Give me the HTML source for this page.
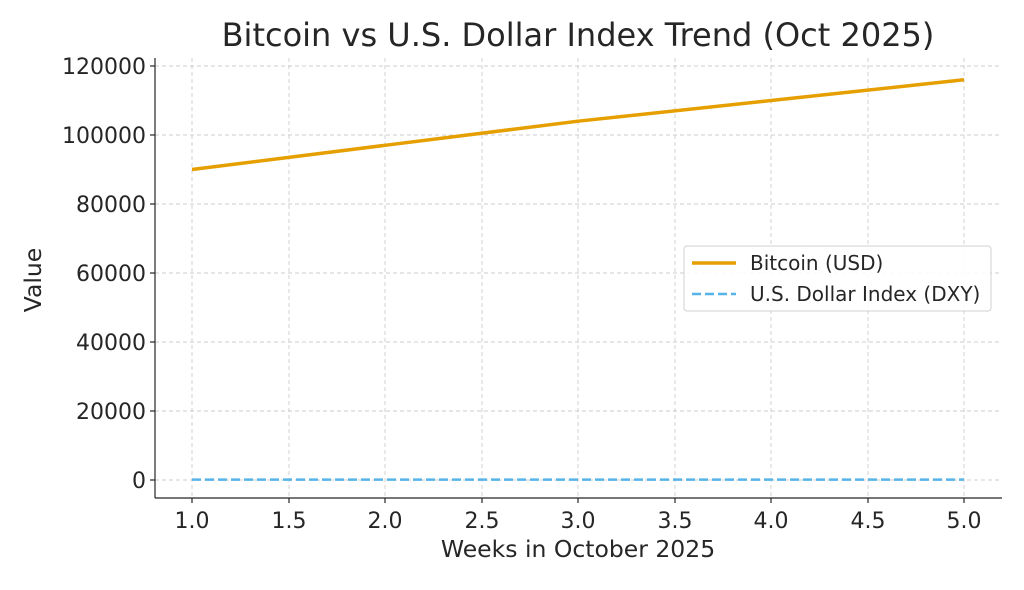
<!DOCTYPE html>
<html><head><meta charset="utf-8"><style>
body{margin:0;background:#fff;}
text{font-family:"DejaVu Sans","Liberation Sans",sans-serif;fill:#262626;}
</style></head><body>
<svg width="1024" height="585" viewBox="0 0 1024 585" xmlns="http://www.w3.org/2000/svg">
<rect width="1024" height="585" fill="#fff"/>
<g stroke="#cccccc" stroke-width="0.9" stroke-dasharray="4,3">
<line x1="192" y1="58" x2="192" y2="498"/><line x1="289" y1="58" x2="289" y2="498"/>
<line x1="385" y1="58" x2="385" y2="498"/><line x1="482" y1="58" x2="482" y2="498"/>
<line x1="578" y1="58" x2="578" y2="498"/><line x1="675" y1="58" x2="675" y2="498"/>
<line x1="771" y1="58" x2="771" y2="498"/><line x1="868" y1="58" x2="868" y2="498"/>
<line x1="964" y1="58" x2="964" y2="498"/>
<line x1="155" y1="480" x2="1002" y2="480"/><line x1="155" y1="411" x2="1002" y2="411"/>
<line x1="155" y1="342" x2="1002" y2="342"/><line x1="155" y1="273" x2="1002" y2="273"/>
<line x1="155" y1="204" x2="1002" y2="204"/><line x1="155" y1="135" x2="1002" y2="135"/>
<line x1="155" y1="66" x2="1002" y2="66"/>
</g>
<polyline points="192,169.5 385,145.3 578,121.2 771,100.5 964,79.8" fill="none" stroke="#E69F00" stroke-width="3.5"/>
<line x1="192" y1="479.6" x2="964" y2="479.6" stroke="#56B4E9" stroke-width="2.5" stroke-dasharray="9,4"/>
<g stroke="#262626" stroke-width="1.2">
<line x1="155" y1="58" x2="155" y2="498"/><line x1="155" y1="498" x2="1002" y2="498"/>
<line x1="192" y1="498" x2="192" y2="503"/><line x1="289" y1="498" x2="289" y2="503"/>
<line x1="385" y1="498" x2="385" y2="503"/><line x1="482" y1="498" x2="482" y2="503"/>
<line x1="578" y1="498" x2="578" y2="503"/><line x1="675" y1="498" x2="675" y2="503"/>
<line x1="771" y1="498" x2="771" y2="503"/><line x1="868" y1="498" x2="868" y2="503"/>
<line x1="964" y1="498" x2="964" y2="503"/>
<line x1="150" y1="480" x2="155" y2="480"/><line x1="150" y1="411" x2="155" y2="411"/>
<line x1="150" y1="342" x2="155" y2="342"/><line x1="150" y1="273" x2="155" y2="273"/>
<line x1="150" y1="204" x2="155" y2="204"/><line x1="150" y1="135" x2="155" y2="135"/>
<line x1="150" y1="66" x2="155" y2="66"/>
</g>
<g font-size="22" text-anchor="middle">
<text x="192" y="528">1.0</text><text x="289" y="528">1.5</text><text x="385" y="528">2.0</text>
<text x="482" y="528">2.5</text><text x="578" y="528">3.0</text><text x="675" y="528">3.5</text>
<text x="771" y="528">4.0</text><text x="868" y="528">4.5</text><text x="964" y="528">5.0</text>
</g>
<g font-size="22" text-anchor="end" textLength="89">
<text x="146" y="488">0</text><text x="146" y="419">20000</text><text x="146" y="350">40000</text>
<text x="146" y="281">60000</text><text x="146" y="212">80000</text><text x="146" y="143">100000</text>
<text x="146" y="74">120000</text>
</g>
<text x="578" y="557" font-size="23.5" text-anchor="middle">Weeks in October 2025</text>
<text transform="translate(41,280) rotate(-90)" font-size="23.5" text-anchor="middle">Value</text>
<text x="578" y="46" font-size="32" text-anchor="middle">Bitcoin vs U.S. Dollar Index Trend (Oct 2025)</text>
<rect x="684" y="246" width="307" height="65" rx="3" fill="#fff" fill-opacity="0.9" stroke="#d0d0d0"/>
<line x1="692" y1="263" x2="736" y2="263" stroke="#E69F00" stroke-width="3.5"/>
<line x1="692" y1="294" x2="736" y2="294" stroke="#56B4E9" stroke-width="2.5" stroke-dasharray="9,4"/>
<text x="750" y="270" font-size="20">Bitcoin (USD)</text>
<text x="750" y="301" font-size="20">U.S. Dollar Index (DXY)</text>
</svg>
</body></html>
